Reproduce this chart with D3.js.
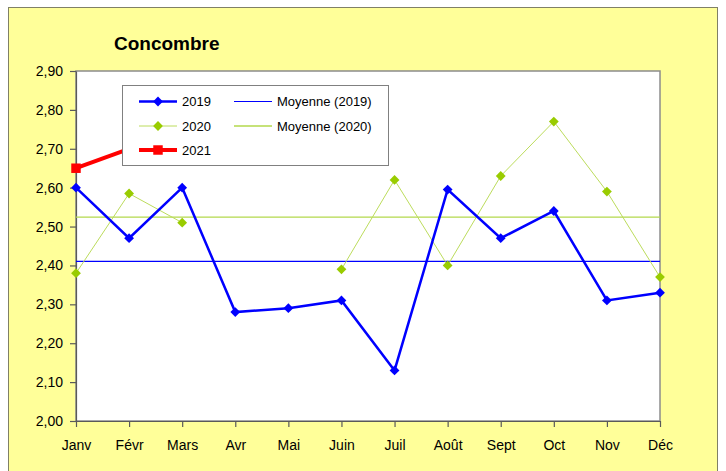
<!DOCTYPE html>
<html>
<head>
<meta charset="utf-8">
<script src="https://cdn.jsdelivr.net/npm/d3@7"></script>
<style>
  body { margin: 0; background: #fff; }
  svg { display: block; font-family: "Liberation Sans", Arial, sans-serif; }
</style>
</head>
<body>
<div id="chart"></div>
<script>
const width = 726;
const height = 471;

const months = ["Janv", "Févr", "Mars", "Avr", "Mai", "Juin", "Juil", "Août", "Sept", "Oct", "Nov", "Déc"];
const v2019 = [2.60, 2.47, 2.60, 2.28, 2.29, 2.31, 2.13, 2.595, 2.47, 2.54, 2.31, 2.33];
const v2020 = [2.38, 2.585, 2.51, null, null, 2.39, 2.62, 2.40, 2.63, 2.77, 2.59, 2.37];
const v2021 = [2.65, 2.70, null, null, null, null, null, null, null, null, null, null];
const yTicks = [2.0, 2.1, 2.2, 2.3, 2.4, 2.5, 2.6, 2.7, 2.8, 2.9];

const blue = "#0000ff";
const green = "#99cc00";
const red = "#ff0000";

const plot = { left: 76, right: 660, top: 71, bottom: 421 };

const svg = d3.select("#chart")
  .append("svg")
  .attr("width", width)
  .attr("height", height);

// outer chart frame
svg.append("rect")
  .attr("x", 8.5).attr("y", 7.5)
  .attr("width", 709).attr("height", 480)
  .attr("fill", "#ffff99")
  .attr("stroke", "#808066");

svg.append("text")
  .attr("x", 114).attr("y", 50)
  .attr("font-size", 19).attr("font-weight", "bold")
  .attr("fill", "#000")
  .text("Concombre");

const x = d3.scalePoint().domain(months).range([plot.left, plot.right]);
const y = d3.scaleLinear().domain([2.0, 2.9]).range([plot.bottom, plot.top]);

const fmt = d3.formatLocale({ decimal: ",", thousands: " ", grouping: [3], currency: ["", " €"] }).format(".2f");

// plot area
svg.append("rect")
  .attr("x", plot.left).attr("y", plot.top)
  .attr("width", plot.right - plot.left).attr("height", plot.bottom - plot.top)
  .attr("fill", "#fff")
  .attr("stroke", "#8c8c8c")
  .attr("stroke-width", 1.5);

const yAxis = svg.append("g")
  .attr("transform", `translate(${plot.left},0)`)
  .call(d3.axisLeft(y).tickValues(yTicks).tickFormat(fmt).tickSize(6).tickSizeOuter(0).tickPadding(7));

const xAxis = svg.append("g")
  .attr("transform", `translate(0,${plot.bottom})`)
  .call(d3.axisBottom(x).tickSize(6).tickSizeOuter(0).tickPadding(13));

[yAxis, xAxis].forEach(g => {
  g.selectAll("path, line").attr("stroke", "#5a5a5a").attr("stroke-width", 1.2);
  g.selectAll("text").attr("font-size", 14).attr("fill", "#000")
    .attr("font-family", "\"Liberation Sans\", Arial, sans-serif");
});

// averages
const avg2019 = d3.mean(v2019);
const avg2020 = d3.mean(v2020);

svg.append("line")
  .attr("x1", plot.left).attr("x2", plot.right)
  .attr("y1", y(avg2020)).attr("y2", y(avg2020))
  .attr("stroke", "#b3d94d").attr("stroke-width", 1.3);

svg.append("line")
  .attr("x1", plot.left).attr("x2", plot.right)
  .attr("y1", y(avg2019)).attr("y2", y(avg2019))
  .attr("stroke", blue).attr("stroke-width", 1.2);

const line = d3.line()
  .defined(d => d.v != null)
  .x(d => x(d.m))
  .y(d => y(d.v));

const toPts = vals => months.map((m, i) => ({ m, v: vals[i] }));

const diamond = d3.symbol(d3.symbolSquare, 48)();
const square = d3.symbol(d3.symbolSquare, 90)();

function drawSeries(vals, color, lineColor, lineWidth, shape, rotate) {
  const pts = toPts(vals);
  svg.append("path")
    .datum(pts)
    .attr("fill", "none")
    .attr("stroke", lineColor)
    .attr("stroke-width", lineWidth)
    .attr("d", line);

  svg.append("g")
    .selectAll("path")
    .data(pts.filter(d => d.v != null))
    .join("path")
    .attr("d", shape)
    .attr("fill", color)
    .attr("transform", d => `translate(${x(d.m)},${y(d.v)}) rotate(${rotate})`);
}

drawSeries(v2020, green, "#bcdc5c", 1, diamond, 45);
drawSeries(v2019, blue, blue, 2.5, diamond, 45);
drawSeries(v2021, red, red, 4, square, 0);

// legend
const legend = svg.append("g");
legend.append("rect")
  .attr("x", 122.5).attr("y", 85.5)
  .attr("width", 266).attr("height", 80)
  .attr("fill", "#fff")
  .attr("stroke", "#808080");

const legendItems = [
  { label: "2019", col: 0, row: 0, color: blue, lw: 2.5, shape: diamond, rot: 45 },
  { label: "2020", col: 0, row: 1, color: green, lw: 1, lineColor: "#bcdc5c", shape: diamond, rot: 45 },
  { label: "2021", col: 0, row: 2, color: red, lw: 4, shape: square, rot: 0 },
  { label: "Moyenne (2019)", col: 1, row: 0, color: blue, lw: 1.2 },
  { label: "Moyenne (2020)", col: 1, row: 1, color: "#b3d94d", lw: 1.3 }
];
const rowY = [101.5, 126, 150];
const colX = [139, 234];

legendItems.forEach(d => {
  const lx = colX[d.col];
  const ly = rowY[d.row];
  legend.append("line")
    .attr("x1", lx).attr("x2", lx + 38)
    .attr("y1", ly).attr("y2", ly)
    .attr("stroke", d.lineColor || d.color)
    .attr("stroke-width", d.lw);
  if (d.shape) {
    legend.append("path")
      .attr("d", d.shape)
      .attr("fill", d.color)
      .attr("transform", `translate(${lx + 19},${ly}) rotate(${d.rot})`);
  }
  legend.append("text")
    .attr("x", lx + 43).attr("y", ly)
    .attr("dy", "0.36em")
    .attr("font-size", 13)
    .attr("fill", "#000")
    .text(d.label);
});
</script>
</body>
</html>
